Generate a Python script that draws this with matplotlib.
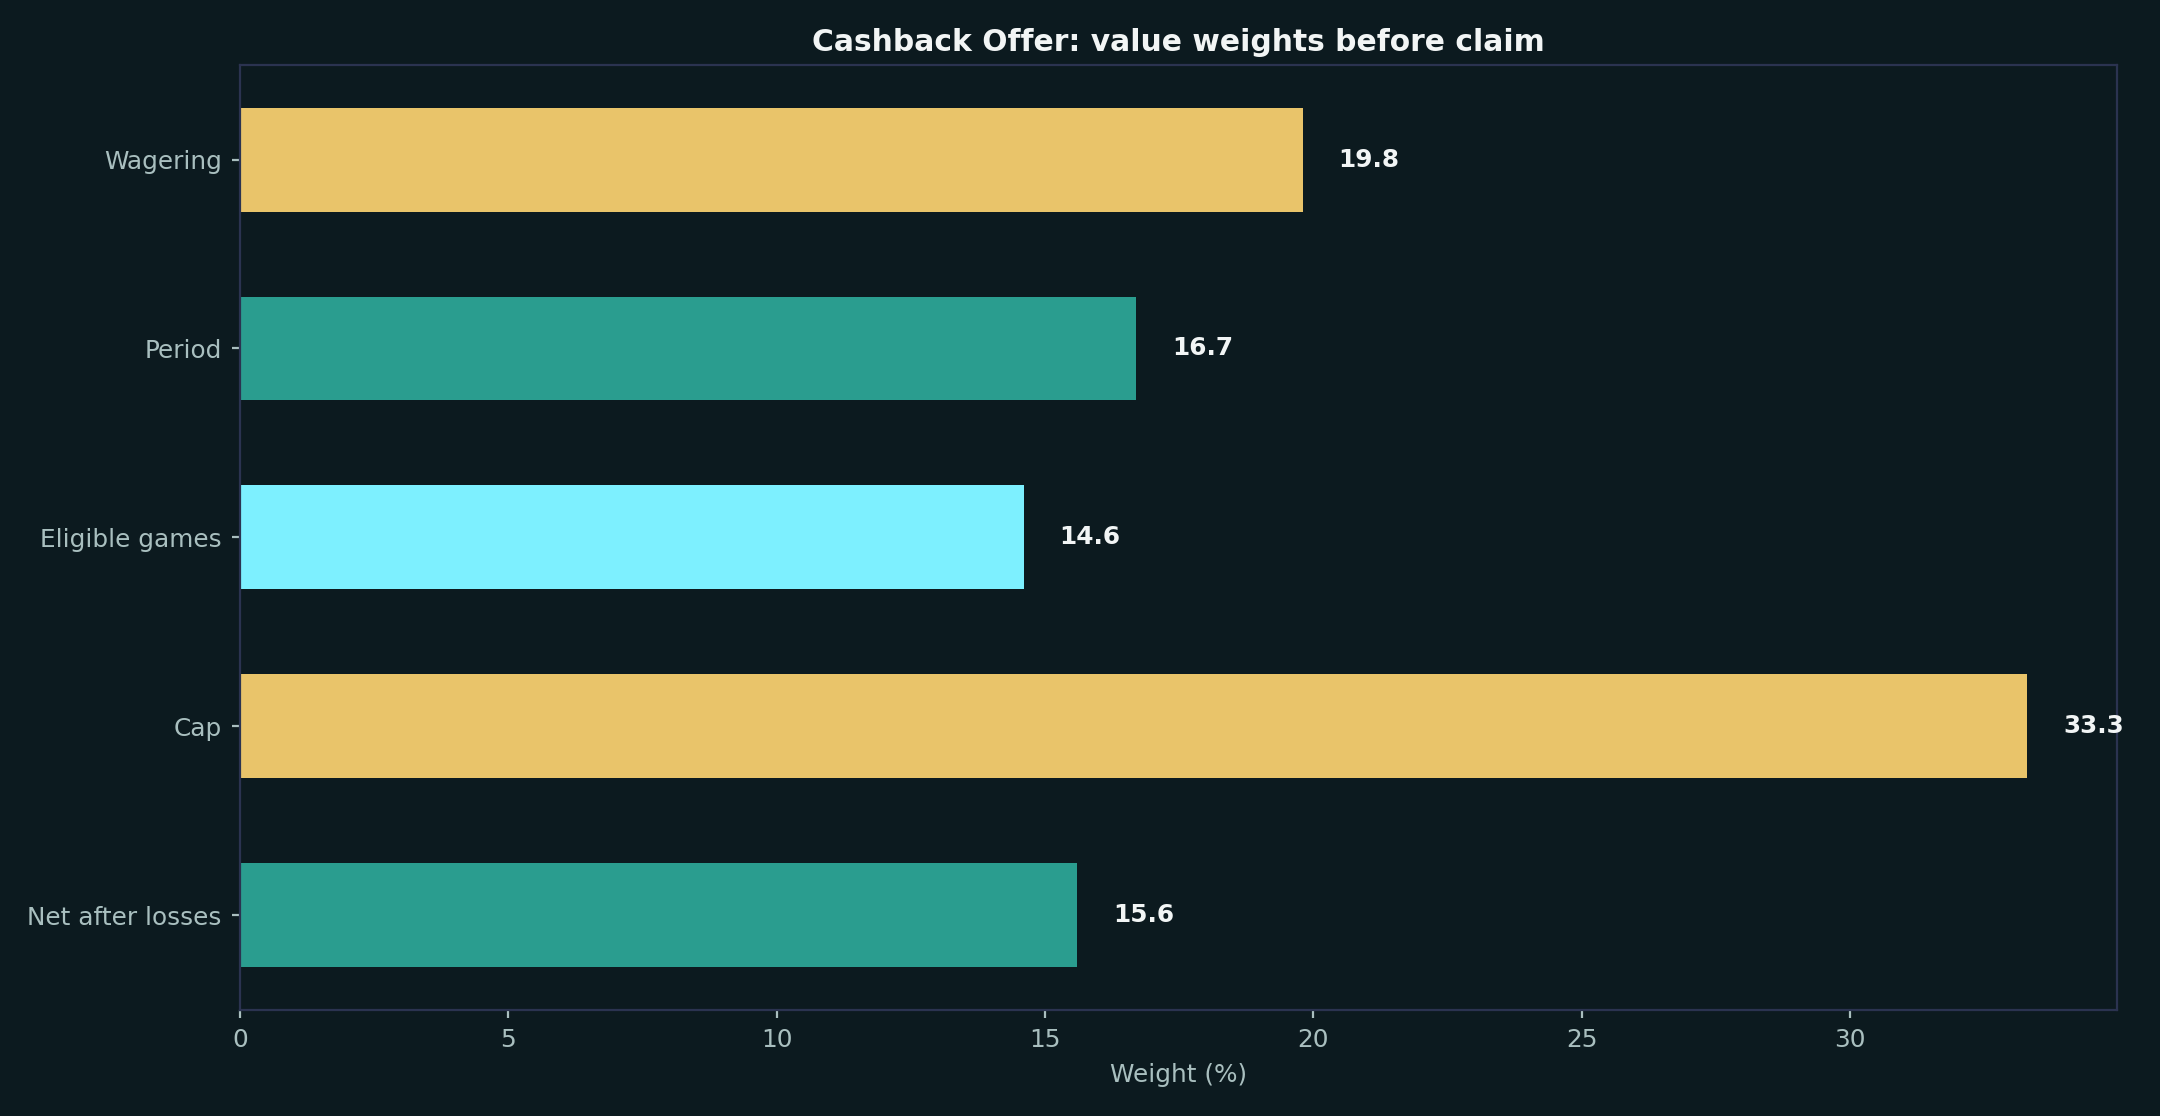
import matplotlib
matplotlib.use("Agg")
import matplotlib.pyplot as plt

plt.rcParams['font.family'] = ['DejaVu Sans']

categories = ["Wagering", "Period", "Eligible games", "Cap", "Net after losses"]
values = [19.8, 16.7, 14.6, 33.3, 15.6]
colors = ["#e9c46a", "#2a9d8f", "#7df0ff", "#e9c46a", "#2a9d8f"]

bg = "#0c1a1f"
spine = "#2b3350"
tickc = "#a9bfbf"

fig = plt.figure(figsize=(10.8, 5.58), dpi=200, facecolor=bg)
ax = fig.add_axes([0.111, 0.095, 0.869, 0.847], facecolor=bg)

ypos = list(range(len(categories)))[::-1]
ax.barh(ypos, values, height=0.55, color=colors)
ax.set_yticks(ypos)
ax.set_yticklabels(categories)
ax.set_xlim(0, max(values) * 1.05)

off = max(values) * 0.02
for y, v in zip(ypos, values):
    ax.text(v + off, y, f"{v:.1f}", va="center", ha="left", color="#f2f5f5",
            fontsize=8.9, fontweight="bold")

for s in ax.spines.values():
    s.set_color(spine)
    s.set_linewidth(0.8)
ax.tick_params(colors=tickc, labelsize=8.9, length=3, width=0.8)
ax.set_xlabel("Weight (%)", color=tickc, fontsize=8.9)
ax.set_title("Cashback Offer: value weights before claim", color="#f2f5f5",
             fontsize=10.7, fontweight="bold", pad=5)

fig.savefig("out.png", dpi=200, facecolor=bg)
